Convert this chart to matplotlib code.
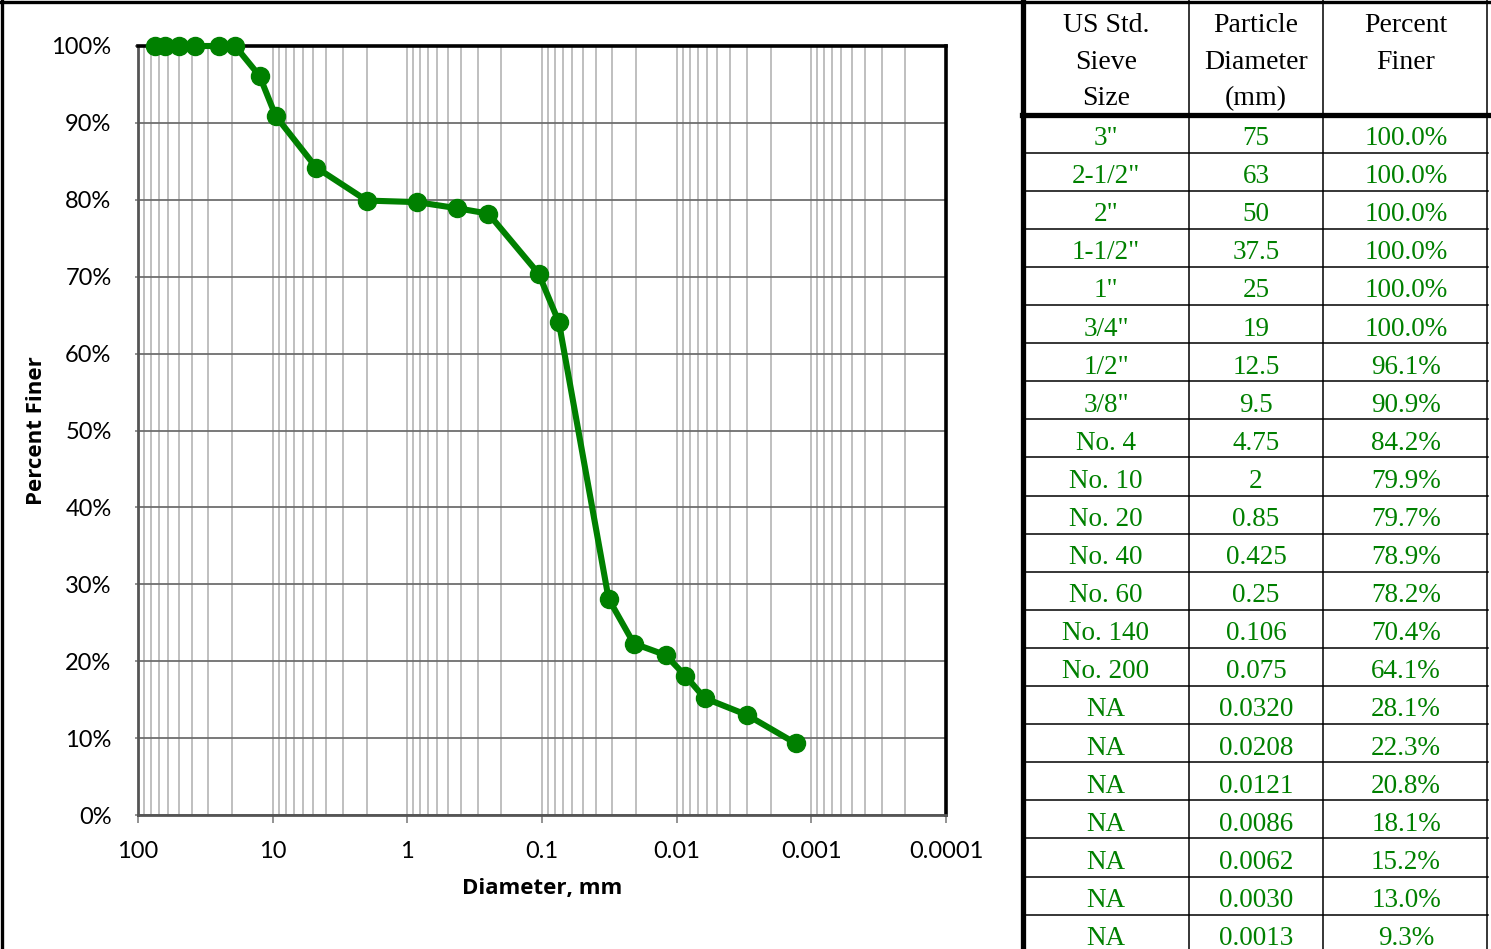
import numpy as np
import matplotlib.pyplot as plt
from matplotlib.ticker import LogLocator, MultipleLocator, PercentFormatter, FuncFormatter, NullFormatter

plt.rcParams['font.family'] = ['Lato', 'DejaVu Sans']

# gradation data (sieve analysis + hydrometer)
sieve = ['3"', '2-1/2"', '2"', '1-1/2"', '1"', '3/4"', '1/2"', '3/8"',
         'No. 4', 'No. 10', 'No. 20', 'No. 40', 'No. 60', 'No. 140', 'No. 200',
         'NA', 'NA', 'NA', 'NA', 'NA', 'NA', 'NA']
diam_txt = ['75', '63', '50', '37.5', '25', '19', '12.5', '9.5',
            '4.75', '2', '0.85', '0.425', '0.25', '0.106', '0.075',
            '0.0320', '0.0208', '0.0121', '0.0086', '0.0062', '0.0030', '0.0013']
finer = [100.0, 100.0, 100.0, 100.0, 100.0, 100.0, 96.1, 90.9,
         84.2, 79.9, 79.7, 78.9, 78.2, 70.4, 64.1,
         28.1, 22.3, 20.8, 18.1, 15.2, 13.0, 9.3]
header = [['US Std.', 'Sieve', 'Size'], ['Particle', 'Diameter', '(mm)'], ['Percent', 'Finer']]

diam = np.array([float(s) for s in diam_txt])
pct = np.array(finer)

W, H = 1491, 949
green = '#008000'

fig = plt.figure(figsize=(W/100, H/100), dpi=100)

#
# Gradation curve
#
ax = fig.add_axes([138/W, 1-815/H, 808/W, 769/H])
ax.set_xscale('log')
ax.set_xlim(100, 1e-4)
ax.set_ylim(0, 100)
ax.set_axisbelow(True)

ax.xaxis.set_major_locator(LogLocator(base=10, numticks=20))
ax.xaxis.set_minor_locator(LogLocator(base=10, subs=np.arange(2, 10), numticks=20))
ax.xaxis.set_major_formatter(FuncFormatter(lambda v, p: np.format_float_positional(v, trim='-')))
ax.xaxis.set_minor_formatter(NullFormatter())
ax.yaxis.set_major_locator(MultipleLocator(10))
ax.yaxis.set_major_formatter(PercentFormatter(xmax=100, decimals=0))

ax.grid(which='both', axis='x', color='#bfbfbf', lw=1.4)
ax.grid(which='major', axis='y', color='#6e6e6e', lw=1.3)

ax.tick_params(axis='x', which='major', direction='out', length=6, width=1.2, color='#808080',
               labelsize=17, pad=13)
ax.tick_params(axis='x', which='minor', length=0)
ax.tick_params(axis='y', which='major', direction='out', length=2, width=1.2, color='#808080',
               labelsize=17, pad=17)

for side in ['top', 'right']:
    ax.spines[side].set_color('black')
    ax.spines[side].set_linewidth(2.6)
for side in ['left', 'bottom']:
    ax.spines[side].set_color('#555555')
    ax.spines[side].set_linewidth(2.0)

ax.plot(diam, pct, '-o', color=green, lw=4.4, ms=13, clip_on=False, zorder=5)

ax.set_xlabel('Diameter, mm', fontfamily='Open Sans', fontweight='bold', fontsize=16, labelpad=11)
ax.set_ylabel('Percent Finer', fontfamily='Open Sans', fontweight='bold', fontsize=16, labelpad=3)

#
# Data table on the right, drawn in pixel coordinates
#
tab = fig.add_axes([0, 0, 1, 1], zorder=-1)
tab.set_xlim(0, W)
tab.set_ylim(H, 0)
tab.axis('off')

col_x = [1106, 1256, 1406]
row_top = 114.5
row_h = 38.1
serif = 'Liberation Serif'

# frame lines
tab.plot([0, W], [1.5, 1.5], color='black', lw=2.4, clip_on=False)
tab.plot([1.5, 1.5], [0, H], color='black', lw=2.4, clip_on=False)
tab.plot([1022.5, 1022.5], [0, H], color='black', lw=3.8, clip_on=False)
for x in [1189, 1323, 1487]:
    tab.plot([x, x], [0, H], color='black', lw=1.1, clip_on=False)
tab.plot([1022, 1489], [row_top, row_top], color='black', lw=3.8, clip_on=False)

for i in range(1, len(sieve)):
    y = row_top + i*row_h
    tab.plot([1022, 1488], [y, y], color='black', lw=1.1, clip_on=False)

# header
for x, lines in zip(col_x, header):
    for j, s in enumerate(lines):
        tab.text(x, 32 + j*36.5, s, ha='center', va='baseline', fontfamily=serif,
                 fontsize=20, color='black')

# body
for i in range(len(sieve)):
    yb = row_top + i*row_h + 30.5
    cells = [sieve[i], diam_txt[i], f'{finer[i]:.1f}%']
    for x, s in zip(col_x, cells):
        tab.text(x, yb, s, ha='center', va='baseline', fontfamily=serif,
                 fontsize=19.5, color=green)

plt.savefig('out.png', dpi=100)
